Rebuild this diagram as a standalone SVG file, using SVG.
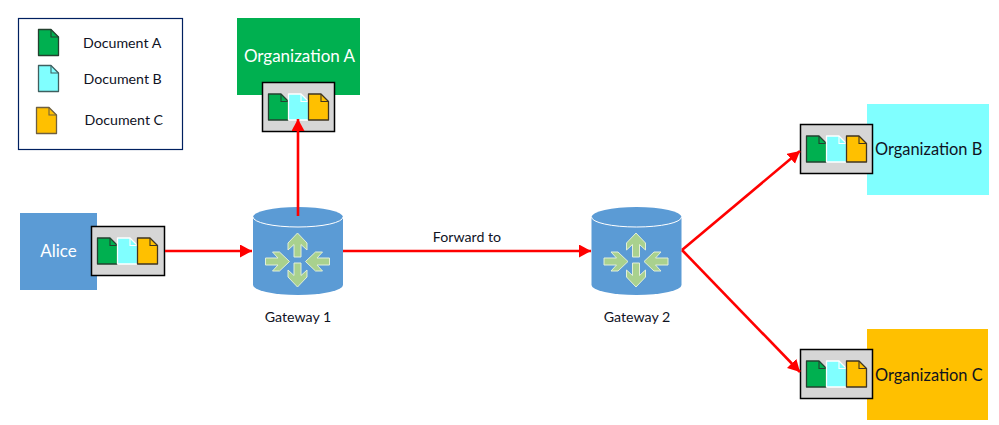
<svg xmlns="http://www.w3.org/2000/svg" xmlns:xlink="http://www.w3.org/1999/xlink" width="999" height="425" viewBox="0 0 999 425">
<style>
text{font-family:"Lato","Liberation Sans",sans-serif;fill:#10131f}
.sm{font-size:14.200px}.lg{font-size:16.400px}
.w{fill:#fff;font-size:17px}
.conn{stroke:#ff0000;stroke-width:2.600;fill:none}
.box{fill:#d6d6d6;stroke:#000;stroke-width:1.500}
</style>
<defs>
<marker id="ah" markerUnits="userSpaceOnUse" markerWidth="13" markerHeight="14" refX="12" refY="6.500" orient="auto"><path d="M0 0L12 6.500L0 13Z" fill="#ff0000"/></marker>
<g id="doc"><path d="M0 0H12.500L20 7.500V26H0Z" stroke-width="1.300" stroke-linejoin="round"/><path d="M12.500 0V7.500H20" fill="none" stroke-width="1.100"/></g>
<g id="trio">
<use xlink:href="#doc" fill="#00b050" stroke="#24402f" x="6.500" y="12"/>
<use xlink:href="#doc" fill="#80ffff" stroke="#fff" x="26.500" y="12"/>
<use xlink:href="#doc" fill="#ffc000" stroke="#3f3522" x="46.500" y="12"/>
</g>
<path id="arr" d="M0 -12L9.500 -2V5L3.500 -0.500V12H-3.500V-0.500L-9.500 5V-2Z" fill="#a9d18e" stroke="#e2efd9" stroke-width="1"/>
<g id="router">
<path d="M0 10A45 10 0 0 1 90 10V78A45 10 0 0 1 0 78Z" fill="#5b9bd5"/>
<path d="M0 10A45 10 0 0 0 90 10" fill="none" stroke="#fff" stroke-width="1"/>
<use xlink:href="#arr" transform="translate(44.500 38)"/>
<use xlink:href="#arr" transform="translate(44.500 68) rotate(180)"/>
<use xlink:href="#arr" transform="translate(24.500 54.500) rotate(90)"/>
<use xlink:href="#arr" transform="translate(64.500 54.500) rotate(-90)"/>
</g>
</defs>
<g id="legend">
<rect x="18.500" y="18.500" width="164" height="131" fill="#fff" stroke="#002060" stroke-width="1.200"/>
<use xlink:href="#doc" fill="#00b050" stroke="#24402f" x="38.500" y="29.500"/>
<use xlink:href="#doc" fill="#80ffff" stroke="#3f5f5f" x="38.500" y="65.500"/>
<use xlink:href="#doc" fill="#ffc000" stroke="#6f6040" x="36.500" y="107.500"/>
<text class="sm" x="83" y="48">Document A</text>
<text class="sm" x="83.500" y="84">Document B</text>
<text class="sm" x="84.500" y="125">Document C</text>
</g>
<g id="alice">
<rect x="20" y="213" width="77" height="77" fill="#5b9bd5"/>
<text class="w" x="58.500" y="257" text-anchor="middle">Alice</text>
<rect class="box" x="91.500" y="226.500" width="73" height="49"/>
<use xlink:href="#trio" x="91" y="226"/>
</g>
<g id="orgA">
<rect x="237" y="18" width="123" height="77" fill="#00b050"/>
<text class="w" x="299.500" y="62" text-anchor="middle">Organization A</text>
<rect class="box" x="262.500" y="82.500" width="72" height="49"/>
<use xlink:href="#trio" x="262" y="82"/>
</g>
<g id="orgB">
<rect x="867" y="104" width="122" height="91" fill="#80ffff"/>
<text class="lg" x="875" y="155">Organization B</text>
<rect class="box" x="800.500" y="124.500" width="72" height="49"/>
<use xlink:href="#trio" x="800" y="124"/>
</g>
<g id="orgC">
<rect x="867" y="329" width="121" height="91" fill="#ffc000"/>
<text class="lg" x="875" y="381">Organization C</text>
<rect class="box" x="800.500" y="349.500" width="72" height="49"/>
<use xlink:href="#trio" x="800" y="349"/>
</g>
<g id="gateway1">
<use xlink:href="#router" x="253" y="207"/>
<text class="sm" x="298" y="322" text-anchor="middle">Gateway 1</text>
</g>
<g id="gateway2">
<use xlink:href="#router" x="591.500" y="207"/>
<text class="sm" x="637" y="322" text-anchor="middle">Gateway 2</text>
</g>
<g id="connectors">
<path class="conn" d="M165 251H252" marker-end="url(#ah)"/>
<path class="conn" d="M298 216V119" marker-end="url(#ah)"/>
<path class="conn" d="M343 251H591" marker-end="url(#ah)"/>
<path class="conn" d="M682 250L800 151" marker-end="url(#ah)"/>
<path class="conn" d="M682 250L800 372" marker-end="url(#ah)"/>
</g>
<text class="sm" x="467" y="242" text-anchor="middle">Forward to</text>
</svg>
